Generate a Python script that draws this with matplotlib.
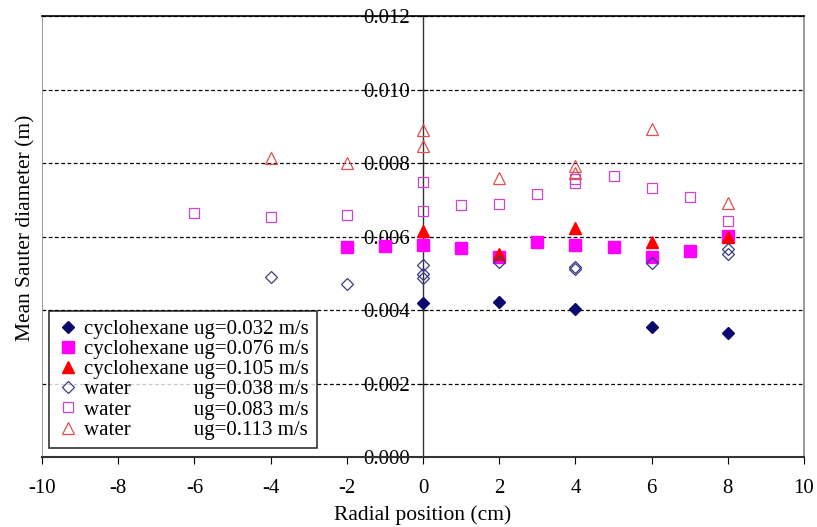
import numpy as np
import matplotlib
matplotlib.use("Agg")
import matplotlib.pyplot as plt

plt.rcParams['font.family'] = ['Liberation Serif', 'DejaVu Serif']
plt.rcParams['axes.unicode_minus'] = False

# cyclohexane runs
cyc1_x = [0, 2, 4, 6, 8]
cyc1_y = [0.00418, 0.00423, 0.00402, 0.00353, 0.00338]

cyc2_x = [-2, -1, 0, 1, 2, 3, 4, 5, 6, 7, 8]
cyc2_y = [0.00571, 0.00574, 0.00577, 0.00568, 0.00543, 0.00586,
          0.00577, 0.00572, 0.00543, 0.00561, 0.00602]

cyc3_x = [0, 2, 4, 6, 8]
cyc3_y = [0.00615, 0.00552, 0.00624, 0.00586, 0.00598]

# water runs
wat1_x = [-4, -2, 0, 0, 0, 2, 4, 4, 6, 8, 8]
wat1_y = [0.00491, 0.00470, 0.00522, 0.00497, 0.00488, 0.00530,
          0.00518, 0.00511, 0.00527, 0.00567, 0.00552]

wat2_x = [-6, -4, -2, 0, 0, 1, 2, 3, 4, 4, 5, 6, 7, 8]
wat2_y = [0.00663, 0.00654, 0.00659, 0.00748, 0.00670, 0.00685, 0.00688,
          0.00716, 0.00756, 0.00745, 0.00765, 0.00731, 0.00707, 0.00642]

wat3_x = [-4, -2, 0, 0, 2, 4, 4, 6, 8]
wat3_y = [0.00813, 0.00800, 0.00890, 0.00846, 0.00758, 0.00793,
          0.00774, 0.00892, 0.00692]

labels = ["cyclohexane ug=0.032 m/s",
          "cyclohexane ug=0.076 m/s",
          "cyclohexane ug=0.105 m/s",
          "water" + " " * 12 + "ug=0.038 m/s",
          "water" + " " * 12 + "ug=0.083 m/s",
          "water" + " " * 12 + "ug=0.113 m/s"]

fig = plt.figure(figsize=(8.17, 5.27), dpi=100)
ax = fig.add_axes([0.0514, 0.1328, 0.9327, 0.8368])

ax.plot(cyc1_x, cyc1_y, 'D', color='#0a0a6e', ms=6.2, mec='#0a0a6e', label=labels[0], zorder=3)
ax.plot(cyc2_x, cyc2_y, 's', color='#ff00ff', ms=8.6, mec='#ff00ff', label=labels[1], zorder=3)
ax.plot(cyc3_x, cyc3_y, '^', color='#ff0000', ms=8.6, mec='#ff0000', label=labels[2], zorder=3)
ax.plot(wat1_x, wat1_y, 'D', mfc='none', mec='#3a3a8a', ms=5.8, mew=0.9, label=labels[3], zorder=4)
ax.plot(wat2_x, wat2_y, 's', mfc='none', mec='#cc44cc', ms=7.4, mew=0.9, label=labels[4], zorder=4)
ax.plot(wat3_x, wat3_y, '^', mfc='none', mec='#e05050', ms=8.4, mew=0.9, label=labels[5], zorder=4)

ax.set_xlim(-10, 10)
ax.set_ylim(0, 0.012)
ax.set_xticks(np.arange(-10, 11, 2))
ax.set_yticks(np.arange(0, 0.0121, 0.002))
ax.yaxis.set_major_formatter(matplotlib.ticker.FormatStrFormatter('%.3f'))

# y axis runs through x = 0, frame edge drawn separately
ax.spines['left'].set_position(('data', 0))
ax.spines['left'].set_color('#333333')
ax.spines['left'].set_linewidth(1.0)
ax.axvline(-10, color='#888888', lw=1.2, zorder=1)
ax.spines['right'].set_color('#888888')
ax.spines['right'].set_linewidth(1.2)
ax.spines['top'].set_linewidth(1.2)
ax.spines['bottom'].set_linewidth(1.5)
ax.spines['bottom'].set_color('#333333')

ax.yaxis.grid(True, linestyle=(0, (3, 2)), color='black', lw=0.9)
ax.set_axisbelow(True)

ax.tick_params(axis='y', direction='inout', length=7, labelsize=15, pad=6)
ax.tick_params(axis='x', direction='out', length=5, labelsize=15, pad=11)

ax.set_xlabel("Radial position (cm)", fontsize=15.5, labelpad=5)
ax.set_ylabel("Mean Sauter diameter (m)", fontsize=15.5)
ax.yaxis.set_label_coords(-0.009, 0.52)

leg = ax.legend(loc='lower left', bbox_to_anchor=(0.009, 0.02), fontsize=15,
                frameon=True, fancybox=False, edgecolor='black',
                handlelength=1.0, handletextpad=0.3, borderpad=0.4,
                labelspacing=0.03, borderaxespad=0)
leg.get_frame().set_linewidth(1.2)

fig.savefig("out.png", dpi=100)
